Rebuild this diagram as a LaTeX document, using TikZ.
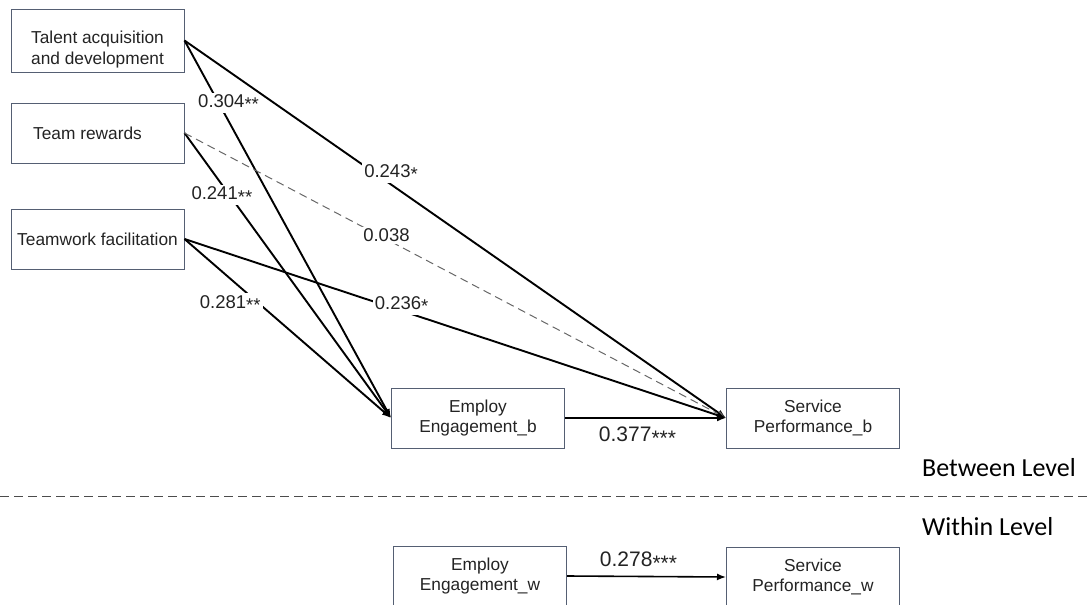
\documentclass[tikz,border=0pt]{standalone}
\usepackage{fontspec}
\setmainfont{Liberation Sans}
\newfontfamily\levelfont{Carlito}
\usetikzlibrary{arrows.meta}

\definecolor{boxline}{RGB}{85,95,115}
\definecolor{txtgray}{RGB}{35,35,35}
\newcommand{\stars}[1]{\raisebox{-.35ex}{#1}}

\begin{document}
\begin{tikzpicture}[x=1pt, y=-1pt,
        var/.style={draw=boxline, line width=1pt, minimum width=173pt, minimum height=60pt, align=center, text=txtgray, font=\fontsize{17.3}{20.5}\selectfont},
        effect/.style={line width=1.9pt, -{Latex[length=9pt,width=7pt]}},
        nseffect/.style={line width=1pt, draw=black!60, dash pattern=on 8pt off 5pt, -{Latex[length=9pt,width=7pt]}},
        coef/.style={fill=white, inner sep=2pt, text=txtgray, font=\fontsize{18.5}{20}\selectfont},
        levelname/.style={anchor=west, inner sep=0pt, font=\levelfont\fontsize{26}{28}\selectfont}]
        \useasboundingbox (0,0) rectangle (1088,605);

        % between level
        \node[var, minimum height=63pt] (talent) at (97.5,40.5) {\rule{0pt}{31pt}Talent acquisition\\and development};
        \node[var] (reward) at (97.5,133) {\hspace*{-20pt}Team rewards};
        \node[var] (teamwork) at (97.5,239) {Teamwork facilitation};
        \node[var] (engb) at (478,418) {Employ\\Engagement\_b};
        \node[var] (servb) at (813,418) {Service\\Performance\_b};

        \draw[effect] (talent.east) -- node[coef, pos=.165, xshift=10pt]{0.304\stars{**}} (engb.west);
        \draw[effect] (talent.east) -- node[coef, pos=.35, xshift=17pt]{0.243\stars{*}} (servb.west);
        \draw[effect] (reward.east) -- node[coef, pos=.21, xshift=-6pt, yshift=-2pt]{0.241\stars{**}} (engb.west);
        \draw[nseffect] (reward.east) -- node[coef, pos=.36, xshift=7pt]{0.038} (servb.west);
        \draw[effect] (teamwork.east) -- node[coef, pos=.333, xshift=-23pt, yshift=-5pt]{0.281\stars{**}} (engb.west);
        \draw[effect] (teamwork.east) -- node[coef, pos=.39, xshift=6pt, yshift=4pt]{0.236\stars{*}} (servb.west);
        \draw[effect] (engb.east) -- node[coef, below=6pt, xshift=-8pt, font=\fontsize{21}{22}\selectfont]{0.377\stars{***}} (servb.west);

        \draw[black!70, line width=1pt, dash pattern=on 9pt off 5pt] (0,496) -- (1088,496);
        \node[levelname] (between) at (922,468) {Between Level};
        \node[levelname] (within) at (922,527) {Within Level};

        % within level
        \node[var] (engw) at (480,576) {Employ\\Engagement\_w};
        \node[var] (servw) at (813,577) {Service\\Performance\_w};
        \draw[effect, line width=1.6pt] (engw.east) -- node[coef, above=3pt, xshift=-8pt, font=\fontsize{21}{22}\selectfont]{0.278\stars{***}} (servw.west);
    \end{tikzpicture}
\end{document}
